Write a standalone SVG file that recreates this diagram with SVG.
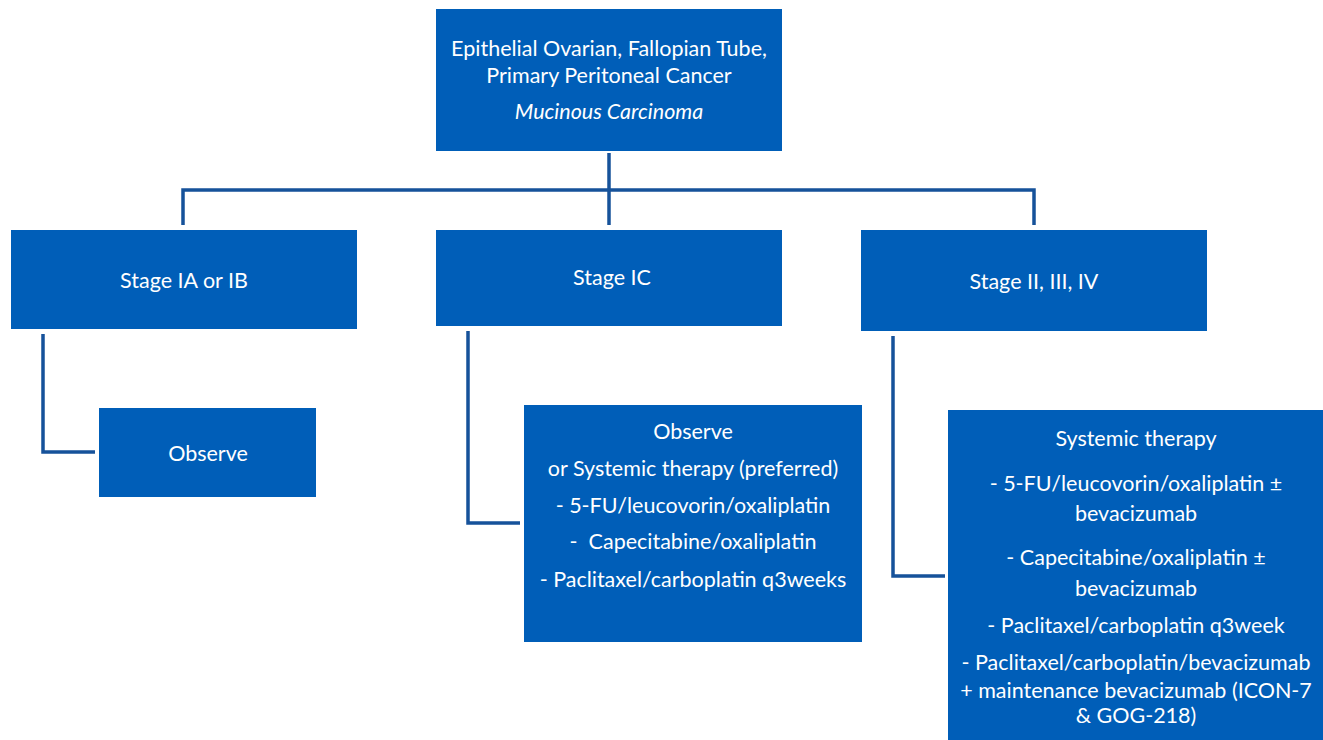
<svg xmlns="http://www.w3.org/2000/svg" width="1323" height="740" viewBox="0 0 1323 740">
<style>
.box{fill:#005EB8;}
.t{font-family:Lato,"Open Sans","Liberation Sans",sans-serif;font-size:21.5px;fill:#FFFFFF;text-anchor:middle;dominant-baseline:central;}
.i{font-style:italic;}
.c{fill:none;stroke:#16529A;stroke-width:3.5;}
</style>
<rect width="1323" height="740" fill="#FFFFFF"/>
<g id="connectors">
<path class="c" d="M609 153V225"/>
<path class="c" d="M183 225V190H1034V225"/>
<path class="c" d="M43 334V452H95"/>
<path class="c" d="M468 331V523H520"/>
<path class="c" d="M893 336V576H945"/>
</g>
<g id="root">
<rect class="box" x="436" y="9" width="346" height="142"/>
<text class="t" x="609" y="48">Epithelial Ovarian, Fallopian Tube,</text>
<text class="t" x="609" y="75">Primary Peritoneal Cancer</text>
<text class="t i" x="609" y="111">Mucinous Carcinoma</text>
</g>
<g id="stage1ab">
<rect class="box" x="11" y="230" width="346" height="99"/>
<text class="t" x="184" y="280">Stage IA or IB</text>
</g>
<g id="stage1c">
<rect class="box" x="436" y="230" width="346" height="96"/>
<text class="t" x="612" y="277">Stage IC</text>
</g>
<g id="stage234">
<rect class="box" x="861" y="230" width="346" height="101"/>
<text class="t" x="1034" y="281">Stage II, III, IV</text>
</g>
<g id="observe">
<rect class="box" x="99" y="408" width="217" height="89"/>
<text class="t" x="208" y="453">Observe</text>
</g>
<g id="ic-therapy">
<rect class="box" x="524" y="405" width="338" height="237"/>
<text class="t" x="693" y="431">Observe</text>
<text class="t" x="693" y="468">or Systemic therapy (preferred)</text>
<text class="t" x="693" y="505">- 5-FU/leucovorin/oxaliplatin</text>
<text class="t" x="693" y="541">-&#160; Capecitabine/oxaliplatin</text>
<text class="t" x="693" y="579">- Paclitaxel/carboplatin q3weeks</text>
</g>
<g id="advanced-therapy">
<rect class="box" x="948" y="410" width="375" height="330"/>
<text class="t" x="1136" y="438">Systemic therapy</text>
<text class="t" x="1136" y="483">- 5-FU/leucovorin/oxaliplatin ±</text>
<text class="t" x="1136" y="513">bevacizumab</text>
<text class="t" x="1136" y="557">- Capecitabine/oxaliplatin ±</text>
<text class="t" x="1136" y="588">bevacizumab</text>
<text class="t" x="1136" y="625">- Paclitaxel/carboplatin q3week</text>
<text class="t" x="1136" y="662">- Paclitaxel/carboplatin/bevacizumab</text>
<text class="t" x="1136" y="690">+ maintenance bevacizumab (ICON-7</text>
<text class="t" x="1136" y="715">&amp; GOG-218)</text>
</g>
</svg>
